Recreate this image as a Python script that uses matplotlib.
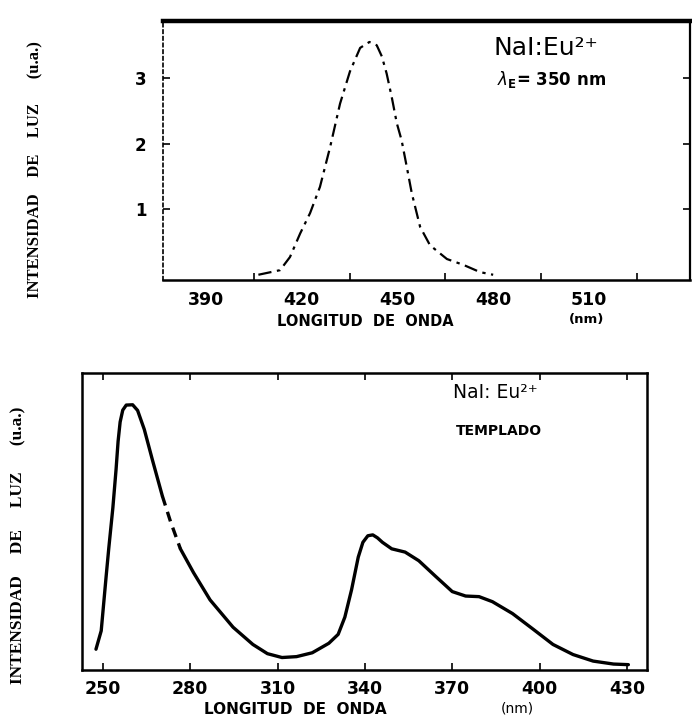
import matplotlib
matplotlib.use("Agg")
import matplotlib.pyplot as plt

# emission spectrum (top), lambda_exc = 350 nm
em_nm = [406.4, 413.2, 416.3, 419.5, 422.6, 425.7, 428.9, 432.0, 435.1, 438.3,
         441.2, 443.5, 445.1, 446.6, 448.2, 449.8, 451.3, 452.9, 454.5, 457.1,
         460.2, 465.5, 470.7, 475.9, 480.0]
em_int = [0.0, 0.07, 0.27, 0.63, 0.94, 1.34, 1.95, 2.61, 3.10, 3.46,
          3.55, 3.50, 3.33, 3.07, 2.71, 2.31, 2.05, 1.65, 1.24, 0.73,
          0.45, 0.24, 0.15, 0.04, 0.0]
em_xticks = [390, 420, 450, 480, 510]
em_yticks = [1, 2, 3]

# excitation spectrum (bottom), templado
ex_nm = [247.6, 249.4, 251.1, 252.0, 253.4, 254.5, 255.2, 255.9, 256.8, 258.0,
         260.2, 261.9, 264.2, 267.0, 270.4, 273.2, 276.6, 281.1, 286.8, 294.7,
         301.5, 306.5, 311.5, 316.5, 321.9, 327.6, 330.8, 333.1, 335.4, 337.7,
         339.3, 341.0, 342.7, 344.3, 346.0, 349.2, 353.8, 358.5, 364.2, 370.0,
         374.6, 379.2, 383.8, 390.7, 397.7, 404.6, 411.5, 418.4, 425.4, 430.5]
ex_int = [0.70, 1.32, 3.16, 4.10, 5.46, 6.75, 7.70, 8.35, 8.75, 8.92,
          8.93, 8.74, 8.10, 7.07, 5.86, 5.00, 4.08, 3.28, 2.36, 1.44,
          0.86, 0.55, 0.42, 0.45, 0.58, 0.90, 1.20, 1.78, 2.70, 3.80,
          4.30, 4.52, 4.55, 4.45, 4.30, 4.08, 3.97, 3.68, 3.16, 2.64,
          2.49, 2.47, 2.30, 1.90, 1.38, 0.86, 0.52, 0.30, 0.20, 0.18]
ex_xticks = [250, 280, 310, 340, 370, 400, 430]
dash_from, dash_to = 270.4, 276.6

W, H = 692, 719


def fx(px):
    return px / W


def fy(py):
    return 1 - py / H


fig = plt.figure(figsize=(W / 100, H / 100), dpi=100)
bold = dict(fontweight="bold", family="DejaVu Sans")

# ---------- top panel ----------
ax1 = fig.add_axes([fx(163), fy(280), fx(690) - fx(163), fy(21) - fy(280)])
ax1.plot(em_nm, em_int, color="black", lw=1.6, dashes=(6, 2.5, 1.5, 2.5))
ax1.set_xlim(376.5, 541.7)
ax1.set_ylim(-0.08, 3.87)
ax1.set_xticks(em_xticks, [str(v) for v in em_xticks])
ax1.set_xticks([405, 435, 465, 495, 525], minor=True)
ax1.set_yticks(em_yticks, [str(v) for v in em_yticks])
ax1.tick_params(axis="x", which="major", length=0, pad=8, labelsize=12.5)
ax1.tick_params(axis="x", which="minor", direction="in", length=5, width=1.2)
ax1.tick_params(axis="y", direction="in", length=5, width=1.2, right=True,
                pad=12, labelsize=12)
for lab in ax1.get_xticklabels() + ax1.get_yticklabels():
    lab.set_fontweight("bold")
ax1.spines["top"].set_linewidth(3.2)
ax1.spines["bottom"].set_linewidth(1.8)
ax1.spines["right"].set_linewidth(1.6)
ax1.spines["left"].set_linewidth(1.2)
ax1.spines["left"].set_linestyle((0, (2, 2)))

fig.text(fx(493), fy(48), "NaI:Eu²⁺", fontsize=18, va="center", ha="left",
         family="DejaVu Sans")
fig.text(fx(497), fy(80), r"$\lambda_{\mathbf{E}}$= 350 nm", fontsize=12,
         va="center", ha="left", **bold)
fig.text(fx(365), fy(321), "LONGITUD  DE  ONDA", fontsize=10.5, ha="center",
         va="center", **bold)
fig.text(fx(587), fy(320), "(nm)", fontsize=9.5, ha="center", va="center",
         **bold)
fig.text(fx(35), fy(170), "INTENSIDAD    DE    LUZ      (u.a.)",
         rotation=90, fontsize=12, ha="center", va="center",
         family="Liberation Serif", fontweight="bold")

# ---------- bottom panel ----------
ax2 = fig.add_axes([fx(82), fy(670), fx(647) - fx(82), fy(373) - fy(670)])
first = [(x, y) for x, y in zip(ex_nm, ex_int) if x <= dash_from]
mid = [(x, y) for x, y in zip(ex_nm, ex_int) if dash_from <= x <= dash_to]
last = [(x, y) for x, y in zip(ex_nm, ex_int) if x >= dash_to]
for seg, ls in [(first, "-"), (mid, (0, (3, 2))), (last, "-")]:
    xs, ys = zip(*seg)
    ax2.plot(xs, ys, color="black", lw=2.4, ls=ls, solid_capstyle="round",
             solid_joinstyle="round")
ax2.set_xlim(242.8, 436.9)
ax2.set_ylim(0, 10)
ax2.set_xticks(ex_xticks, [str(v) for v in ex_xticks])
ax2.set_yticks([])
ax2.tick_params(axis="x", direction="in", length=5, width=1.2, top=True,
                pad=7, labelsize=12.5)
for lab in ax2.get_xticklabels():
    lab.set_fontweight("bold")
for s in ax2.spines.values():
    s.set_linewidth(1.8)

fig.text(fx(453), fy(392), "NaI: Eu²⁺", fontsize=13.5, ha="left",
         va="center", family="DejaVu Sans")
fig.text(fx(499), fy(431), "TEMPLADO", fontsize=10, ha="center",
         va="center", **bold)
fig.text(fx(295), fy(710), "LONGITUD  DE  ONDA", fontsize=11, ha="center",
         va="center", family="DejaVu Sans", fontweight="semibold")
fig.text(fx(517), fy(708), "(nm)", fontsize=10, ha="center", va="center",
         family="DejaVu Sans")
fig.text(fx(18), fy(545), "INTENSIDAD     DE     LUZ      (u.a.)",
         rotation=90, fontsize=12.5, ha="center", va="center",
         family="Liberation Serif", fontweight="bold")

fig.savefig("out.png", dpi=100)
